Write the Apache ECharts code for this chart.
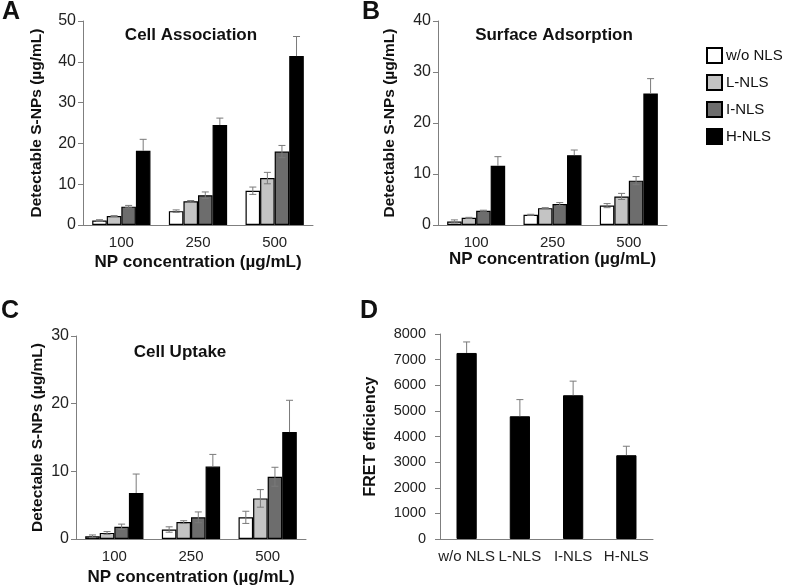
<!DOCTYPE html>
<html lang="en">
<head>
<meta charset="UTF-8">
<title>S-NPs association</title>
<script src="https://cdn.jsdelivr.net/npm/echarts@6/dist/echarts.min.js"></script>
<style>
  html, body { margin: 0; background: #fff; }
  #main { width: 785px; height: 587px; }
</style>
</head>
<body>
<div id="main"></div>
<script>
var groups = ['w/o NLS', 'L-NLS', 'I-NLS', 'H-NLS'];
var concs = ['100', '250', '500'];
var colors = ['#ffffff', '#c4c4c4', '#6d6d6d', '#000000'];

// rows = NLS group, cols = concentration 100/250/500
var assocVal = [[1.1, 3.4, 8.4], [2.2, 5.8, 11.5], [4.5, 7.3, 18.0], [18.2, 24.5, 41.4]];
var assocErr = [[0.2, 0.3, 0.9], [0.1, 0.2, 1.4], [0.3, 0.8, 1.5], [2.8, 1.7, 4.8]];
var adsVal = [[0.7, 2.0, 3.8], [1.4, 3.3, 5.6], [2.8, 4.1, 8.7], [11.6, 13.7, 25.8]];
var adsErr = [[0.3, 0.1, 0.4], [0.1, 0.1, 0.6], [0.1, 0.3, 0.8], [1.8, 1.0, 2.9]];
var uptVal = [[0.4, 1.4, 3.2], [0.9, 2.5, 6.0], [1.8, 3.2, 9.2], [6.8, 10.7, 15.8]];
var uptErr = [[0.2, 0.4, 0.9], [0.2, 0.2, 1.3], [0.4, 0.8, 1.4], [2.8, 1.8, 4.7]];
var fretVal = [7260, 4790, 5610, 3270];
var fretErr = [430, 650, 550, 350];

var FONT = '"Liberation Sans", Arial, sans-serif';
var AXIS_GRAY = '#7f7f7f';
var ERR_GRAY = '#7a7a7a';

var grids = [
  { left: 83, top: 21, width: 230, height: 204 },
  { left: 438, top: 21, width: 229, height: 204 },
  { left: 76, top: 336, width: 230, height: 203 },
  { left: 440, top: 334, width: 213, height: 205 }
];

function xAxis(idx, data, name, gap) {
  return {
    type: 'category', gridIndex: idx, data: data,
    name: name, nameLocation: 'middle', nameGap: gap,
    nameTextStyle: { fontFamily: FONT, fontSize: 17, fontWeight: 'bold', color: '#111' },
    axisLine: { lineStyle: { color: AXIS_GRAY, width: 1 } },
    axisTick: { show: false },
    axisLabel: { fontFamily: FONT, fontSize: 15, color: '#222', margin: 10, interval: 0 }
  };
}

function yAxis(idx, max, interval, name, gap, nameSize, labelSize, labelMargin) {
  return {
    type: 'value', gridIndex: idx, min: 0, max: max, interval: interval,
    name: name, nameLocation: 'middle', nameGap: gap,
    nameTextStyle: { fontFamily: FONT, fontSize: nameSize, fontWeight: 'bold', color: '#111' },
    axisLine: { show: true, lineStyle: { color: AXIS_GRAY, width: 1 } },
    axisTick: { show: true, length: 5, lineStyle: { color: AXIS_GRAY } },
    axisLabel: {
      fontFamily: FONT, fontSize: labelSize, color: '#222', margin: labelMargin,
      formatter: function (v) { return String(v); }
    },
    splitLine: { show: false }
  };
}

// error bar drawn through the axis scales
function errRender(k, nBars, gapFrac, upOnly) {
  return function (params, api) {
    var c = api.value(0), v = api.value(1), e = api.value(2);
    var band = api.size([1, 0])[0];
    var bw = band * (1 - gapFrac) / nBars;
    var x = api.coord([c, v])[0] + (k - (nBars - 1) / 2) * bw;
    var yTop = api.coord([c, v + e])[1];
    var yBot = api.coord([c, upOnly ? v : v - e])[1];
    var half = 3.5;
    var st = { stroke: ERR_GRAY, lineWidth: 1 };
    var kids = [
      { type: 'line', shape: { x1: x, y1: yTop, x2: x, y2: yBot }, style: st },
      { type: 'line', shape: { x1: x - half, y1: yTop, x2: x + half, y2: yTop }, style: st }
    ];
    if (!upOnly) {
      kids.push({ type: 'line', shape: { x1: x - half, y1: yBot, x2: x + half, y2: yBot }, style: st });
    }
    return { type: 'group', children: kids };
  };
}

var series = [];
var panels = [[assocVal, assocErr], [adsVal, adsErr], [uptVal, uptErr]];
var GAP = 0.24;
panels.forEach(function (p, pi) {
  groups.forEach(function (g, k) {
    series.push({
      type: 'bar', name: g, xAxisIndex: pi, yAxisIndex: pi,
      data: p[0][k],
      barGap: '0%', barCategoryGap: (GAP * 100) + '%',
      itemStyle: { color: colors[k], borderColor: '#000', borderWidth: 1.2 },
      emphasis: { disabled: true },
      z: 2
    });
  });
  groups.forEach(function (g, k) {
    series.push({
      type: 'custom', name: 'err' + pi + '_' + k, xAxisIndex: pi, yAxisIndex: pi,
      renderItem: errRender(k, 4, GAP, k === 3),
      data: p[0][k].map(function (v, i) { return [i, v, p[1][k][i]]; }),
      z: 5, silent: true
    });
  });
});

series.push({
  type: 'bar', name: 'FRET', xAxisIndex: 3, yAxisIndex: 3,
  data: fretVal, barCategoryGap: '62%',
  itemStyle: { color: '#000', borderColor: '#000', borderWidth: 1 },
  emphasis: { disabled: true }, z: 2
});
series.push({
  type: 'custom', name: 'fretErr', xAxisIndex: 3, yAxisIndex: 3,
  renderItem: errRender(0, 1, 0.62, true),
  data: fretVal.map(function (v, i) { return [i, v, fretErr[i]]; }),
  z: 5, silent: true
});

function label(text, x, y, size, align) {
  return {
    type: 'text', x: x, y: y,
    style: {
      text: text, fontFamily: FONT, fontSize: size, fontWeight: 'bold', fill: '#111',
      textAlign: align || 'left', textVerticalAlign: 'middle'
    }
  };
}

var option = {
  backgroundColor: '#fff',
  animation: false,
  grid: grids,
  xAxis: [
    xAxis(0, concs, 'NP concentration (µg/mL)', 29),
    xAxis(1, concs, 'NP concentration (µg/mL)', 25),
    xAxis(2, concs, 'NP concentration (µg/mL)', 30),
    xAxis(3, groups, '', 20)
  ],
  yAxis: [
    yAxis(0, 50, 10, 'Detectable S-NPs (µg/mL)', 38, 15.5, 16, 7),
    yAxis(1, 40, 10, 'Detectable S-NPs (µg/mL)', 40, 15.5, 16, 7),
    yAxis(2, 30, 10, 'Detectable S-NPs (µg/mL)', 30, 15.5, 16, 7),
    yAxis(3, 8000, 1000, 'FRET efficiency', 61, 16, 14.5, 14)
  ],
  legend: {
    data: groups, orient: 'vertical', left: 706, top: 47, padding: 0,
    itemWidth: 15, itemHeight: 15, itemGap: 10, icon: 'rect',
    selectedMode: false,
    textStyle: { fontFamily: FONT, fontSize: 15, color: '#111', padding: [0, 0, 0, -1] }
  },
  graphic: [
    label('A', 2, 12, 25),
    label('B', 362, 12, 25),
    label('C', 1, 311, 25),
    label('D', 360, 311, 25),
    label('Cell Association', 191, 35, 17, 'center'),
    label('Surface Adsorption', 554, 35, 17, 'center'),
    label('Cell Uptake', 180, 352, 17, 'center')
  ],
  series: series
};

var chart = echarts.init(document.getElementById('main'));
chart.setOption(option);
</script>
</body>
</html>
